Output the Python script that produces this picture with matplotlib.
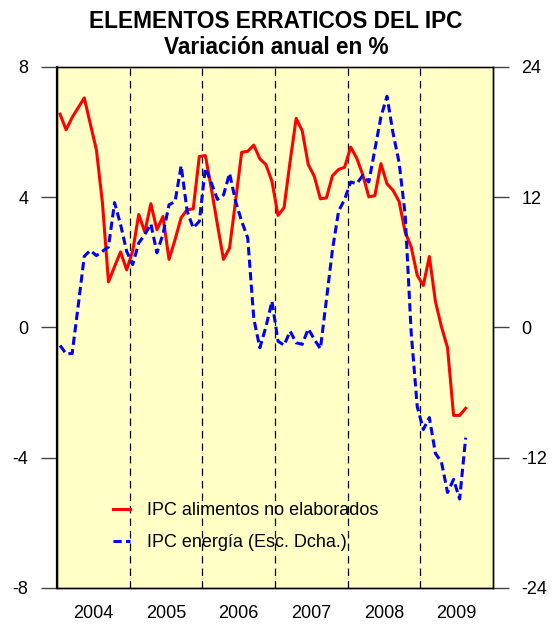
import numpy as np
import matplotlib
matplotlib.use('Agg')
import matplotlib.pyplot as plt

plt.rcParams['font.family'] = ['Liberation Sans', 'DejaVu Sans']

# Monthly data, Jan 2004 - Aug 2009
alimentos = [
    6.55, 6.07, 6.45, 6.75, 7.05, 6.25, 5.46, 3.83, 1.40, 1.87, 2.32, 1.77,
    2.35, 3.47, 2.93, 3.80, 3.00, 3.41, 2.09, 2.70, 3.37, 3.62, 3.64, 5.25,
    5.28, 4.25, 3.15, 2.09, 2.44, 3.90, 5.38, 5.41, 5.60, 5.18, 5.00, 4.49,
    3.44, 3.68, 5.10, 6.42, 6.04, 5.00, 4.64, 3.95, 3.98, 4.66, 4.85, 4.92,
    5.54, 5.20, 4.69, 4.01, 4.05, 5.03, 4.41, 4.21, 3.87, 2.93, 2.47, 1.60,
    1.29, 2.18, 0.80, 0.02, -0.62, -2.70, -2.70, -2.48,
]
energia = [
    -1.66, -2.42, -2.40, 2.0, 6.56, 7.10, 6.62, 7.02, 7.42, 11.5, 9.47, 7.02,
    5.8, 7.79, 8.56, 9.54, 6.87, 8.6, 11.3, 11.6, 14.9, 10.7, 9.17, 9.78,
    14.7, 13.3, 11.8, 12.2, 14.2, 11.6, 9.78, 8.25, 0.8, -1.87, 0.05, 2.42,
    -1.26, -1.64, -0.34, -1.41, -1.56, -0.12, -1.1, -1.96, 2.58, 7.18, 10.7, 11.8,
    13.4, 13.25, 14.0, 13.4, 16.4, 19.4, 21.3, 17.9, 15.2, 10.4, -0.5, -7.3,
    -9.4, -8.3, -11.6, -12.4, -15.2, -14.0, -15.8, -10.15,
]
years = [2004, 2005, 2006, 2007, 2008, 2009]
left_ticks = [-8, -4, 0, 4, 8]
right_ticks = [-24, -12, 0, 12, 24]

months = 2004 + (np.arange(len(alimentos)) + 0.5) / 12

fig = plt.figure(figsize=(5.52, 6.24), dpi=100)
ax = fig.add_axes([0.1033, 0.0577, 0.7897, 0.835])
ax.set_facecolor('#FFFFC6')

# year separators
for y in years[1:]:
    ax.axvline(y, color='black', lw=0.9, dashes=(6, 4), zorder=1)

l1, = ax.plot(months, alimentos, color='#FF0000', lw=2.2, zorder=3,
              label='IPC alimentos no elaborados')
ax.set_xlim(2004, 2010)
ax.set_ylim(-8, 8)
ax.set_yticks(left_ticks)
ax.set_yticklabels([str(t) for t in left_ticks])

ax2 = ax.twinx()
l2, = ax2.plot(months, energia, color='#0000FF', lw=2.2, dashes=(2.7, 1.4), zorder=3,
               label='IPC energía (Esc. Dcha.)')
ax2.set_ylim(-24, 24)
ax2.set_yticks(right_ticks)
ax2.set_yticklabels([str(t) for t in right_ticks])

ax.set_xticks([])
ax.set_xticks([y + 0.5 for y in years], minor=True)
ax.set_xticklabels([str(y) for y in years], minor=True)
ax.tick_params(axis='x', which='minor', length=0, pad=12, labelsize=13)
ax.tick_params(axis='y', length=11.5, width=1, color='#444444', pad=9, labelsize=13)
ax2.tick_params(axis='y', length=11.5, width=1, color='#444444', pad=9, labelsize=13)

for a in (ax, ax2):
    for s in a.spines.values():
        s.set_linewidth(1.0)
ax.spines['left'].set_linewidth(1.6)
ax.spines['top'].set_color('#555555')

ax.legend(handles=[l1, l2], loc='upper left', bbox_to_anchor=(0.128, 0.165),
          frameon=False, fontsize=13, handlelength=0.95, handletextpad=0.95,
          labelspacing=0.82, borderpad=0, borderaxespad=0)

fig.text(0.5, 1 - 22 / 624, 'ELEMENTOS ERRATICOS DEL IPC', ha='center', va='center',
         fontsize=16.3, fontweight='bold')
fig.text(0.5, 1 - 48 / 624, 'Variación anual en %', ha='center', va='center',
         fontsize=16.3, fontweight='bold')

fig.savefig('out.png', dpi=100)
